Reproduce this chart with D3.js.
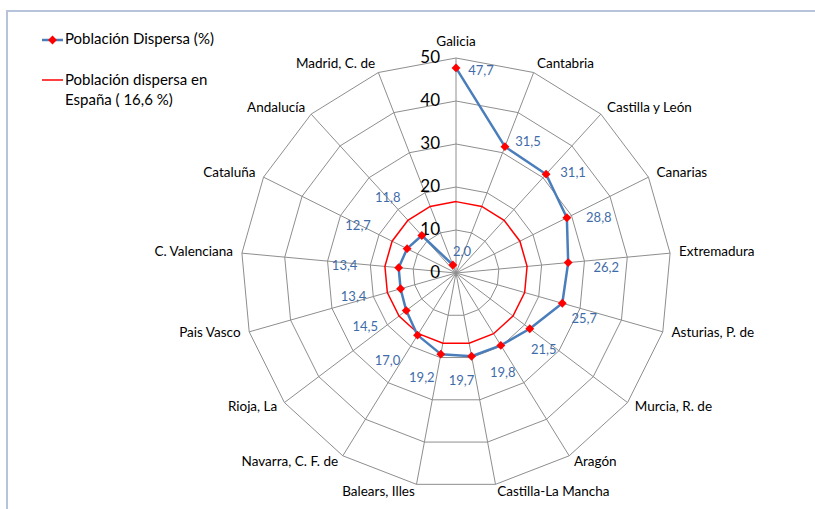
<!DOCTYPE html>
<html>
<head>
<meta charset="utf-8">
<script src="https://cdn.jsdelivr.net/npm/d3@7"></script>
<style>
  html, body { margin: 0; padding: 0; background: #fff; }
  svg { display: block; }
</style>
</head>
<body>
<svg id="chart" width="815" height="509"></svg>
<script>
// ---------- data ----------
const categories = [
  "Galicia", "Cantabria", "Castilla y León", "Canarias", "Extremadura",
  "Asturias, P. de", "Murcia, R. de", "Aragón", "Castilla-La Mancha",
  "Balears, Illes", "Navarra, C. F. de", "Rioja, La", "Pais Vasco",
  "C. Valenciana", "Cataluña", "Andalucía", "Madrid, C. de"
];
const dispersa = [47.7, 31.5, 31.1, 28.8, 26.2, 25.7, 21.5, 19.8, 19.7, 19.2, 17.0, 14.5, 13.4, 13.4, 12.7, 11.8, 2.0];
const espana = 16.6;
const ticks = [0, 10, 20, 30, 40, 50];
const legendLabels = ["Población Dispersa (%)", "Población dispersa en", "España ( 16,6 %)"];

// ---------- layout (label nudges in px, kept apart from data) ----------
const labelNudge = [
  [25, 4], [23, -4], [27, 0], [32, 1], [38, 6], [22, 16], [14, 22], [2, 28],
  [-10, 25], [-19, 25], [-30, 27], [-41, 17], [-47, 9], [-54, -1], [-49, -22], [-34, -37], [9, -12]
];

const svg = d3.select("#chart");
const cx = 456, cy = 273, R = 215;
const n = categories.length;
const r = d3.scaleLinear().domain([0, 50]).range([0, R]);
const ang = d3.scaleLinear().domain([0, n]).range([0, 2 * Math.PI]);
const fontCat = "Lato, 'Open Sans', sans-serif";

// frame
svg.append("line").attr("x1", 7).attr("y1", 10).attr("x2", 7).attr("y2", 509)
  .attr("stroke", "#b7c2db").attr("stroke-width", 2);
svg.append("line").attr("x1", 6).attr("y1", 11).attr("x2", 815).attr("y2", 11)
  .attr("stroke", "#b7c2db").attr("stroke-width", 2);

const g = svg.append("g").attr("transform", `translate(${cx},${cy})`);

// rings
const ringLine = d3.lineRadial()
  .angle((d, i) => ang(i))
  .radius(d => r(d))
  .curve(d3.curveLinearClosed);
ticks.filter(t => t > 0).forEach(t => {
  g.append("path").attr("d", ringLine(categories.map(() => t)))
    .attr("fill", "none").attr("stroke", "#8e8e8e").attr("stroke-width", 1);
});
// spokes
categories.forEach((c, i) => {
  const a = ang(i);
  g.append("line").attr("x1", 0).attr("y1", 0)
    .attr("x2", r(50) * Math.sin(a)).attr("y2", -r(50) * Math.cos(a))
    .attr("stroke", "#8e8e8e").attr("stroke-width", 1);
});

// category labels
categories.forEach((c, i) => {
  const a = ang(i), s = Math.sin(a), co = Math.cos(a);
  const ex = r(50) * s, ey = -r(50) * co;
  const anchor = s > 0.1 ? "start" : (s < -0.1 ? "end" : "middle");
  g.append("text")
    .attr("x", ex + s * 9)
    .attr("y", ey - co * 8 - (Math.abs(s) < 0.1 ? 7 : 0))
    .attr("text-anchor", anchor)
    .attr("dominant-baseline", "middle")
    .attr("font-family", fontCat).attr("font-size", 13.5).attr("fill", "#000")
    .text(c);
});

// tick labels
ticks.forEach(t => {
  g.append("text").attr("x", -16).attr("y", -r(t) + 1)
    .attr("text-anchor", "end").attr("dominant-baseline", "middle")
    .attr("font-family", fontCat).attr("font-size", 17).attr("fill", "#000")
    .text(t);
});

// Spain reference polygon
g.append("path").attr("d", ringLine(categories.map(() => espana)))
  .attr("fill", "none").attr("stroke", "#ff0000").attr("stroke-width", 1.5);

// series line (open)
const seriesLine = d3.lineRadial()
  .angle((d, i) => ang(i))
  .radius(d => r(d));
g.append("path").attr("d", seriesLine(dispersa))
  .attr("fill", "none").attr("stroke", "#4a7ebb").attr("stroke-width", 2.5)
  .attr("stroke-linejoin", "round");

// markers
const diamond = d3.symbol().type(d3.symbolDiamond2).size(50);
dispersa.forEach((v, i) => {
  const a = ang(i);
  g.append("path").attr("d", diamond())
    .attr("transform", `translate(${r(v) * Math.sin(a)},${-r(v) * Math.cos(a)})`)
    .attr("fill", "#ff0000");
});

// data labels
const fmt = v => d3.format(".1f")(v).replace(".", ",");
dispersa.forEach((v, i) => {
  const a = ang(i);
  const px = r(v) * Math.sin(a), py = -r(v) * Math.cos(a);
  g.append("text")
    .attr("x", px + labelNudge[i][0]).attr("y", py + labelNudge[i][1])
    .attr("text-anchor", "middle").attr("dominant-baseline", "middle")
    .attr("font-family", "Lato, 'Open Sans', sans-serif").attr("font-size", 13)
    .attr("fill", "#3f6ca8")
    .text(fmt(v));
});

// legend
const lg = svg.append("g");
lg.append("line").attr("x1", 42).attr("x2", 63).attr("y1", 40).attr("y2", 40)
  .attr("stroke", "#4a7ebb").attr("stroke-width", 2.5);
lg.append("path").attr("d", diamond()).attr("transform", "translate(52.5,40)").attr("fill", "#ff0000");
lg.append("text").attr("x", 65).attr("y", 40).attr("dominant-baseline", "middle")
  .attr("font-family", fontCat).attr("font-size", 15).attr("fill", "#000").text(legendLabels[0]);
lg.append("line").attr("x1", 42).attr("x2", 63).attr("y1", 80).attr("y2", 80)
  .attr("stroke", "#ff0000").attr("stroke-width", 1.5);
lg.append("text").attr("x", 65).attr("y", 81).attr("dominant-baseline", "middle")
  .attr("font-family", fontCat).attr("font-size", 15).attr("fill", "#000").text(legendLabels[1]);
lg.append("text").attr("x", 65).attr("y", 101).attr("dominant-baseline", "middle")
  .attr("font-family", fontCat).attr("font-size", 15).attr("fill", "#000").text(legendLabels[2]);
</script>
</body>
</html>
